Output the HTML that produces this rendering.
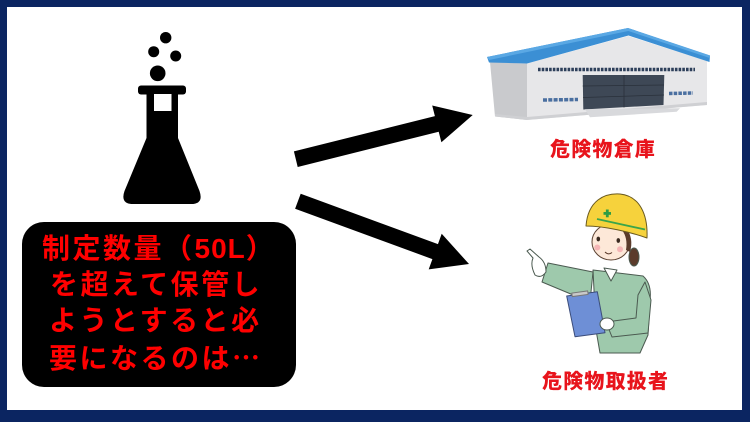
<!DOCTYPE html>
<html><head><meta charset="utf-8">
<style>
html,body{margin:0;padding:0;}
body{width:750px;height:422px;background:#0b2561;position:relative;overflow:hidden;font-family:"Liberation Sans","Noto Sans CJK JP",sans-serif;}
.inner{position:absolute;left:7px;top:7px;width:735px;height:403px;background:#fff;}
svg{position:absolute;left:0;top:0;}
.box{position:absolute;left:22px;top:222px;width:274px;height:165px;background:#000;border-radius:22px;}
.ln{position:absolute;font-family:"Liberation Sans","Noto Sans CJK JP",sans-serif;font-weight:bold;font-size:28px;color:#f00;letter-spacing:2.5px;line-height:36px;height:36px;white-space:nowrap;}
.cjk{font-family:"Noto Sans CJK JP",sans-serif;}
.lbl{position:absolute;font-family:"Liberation Sans","Noto Sans CJK JP",sans-serif;font-weight:900;font-size:20px;color:#e8141c;letter-spacing:1.2px;line-height:24px;height:24px;white-space:nowrap;}
</style></head>
<body>
<div class="inner"></div>
<svg width="750" height="422" viewBox="0 0 750 422">
  <!-- flask -->
  <g fill="#000">
    <circle cx="165.7" cy="37.7" r="5.7"/>
    <circle cx="153.7" cy="51.7" r="5.5"/>
    <circle cx="175.7" cy="56" r="5.5"/>
    <circle cx="157.7" cy="73.3" r="7.8"/>
    <rect x="138" y="85.5" width="48" height="9" rx="3"/>
    <path d="M146.5,93 L178,93 L178,138 L199.5,191 Q204,204 191,204 L133,204 Q120,204 124.5,191 L146.5,138 Z"/>
  </g>
  <rect x="154" y="94" width="17.5" height="17" fill="#fff"/>

  <!-- arrows -->
  <polygon fill="#000" points="293.9,151.4 434.9,116.1 432.2,105.5 472.7,115 441.4,142.3 438.7,131.7 297.7,167"/>
  <polygon fill="#000" points="300.7,193.8 437.95,244.1 441.7,233.8 469,264 428.7,269.4 432.4,259.1 295.1,208.8"/>

  <!-- warehouse -->
  <polygon points="490,62 527,63.5 527,120 495,116.5" fill="#c9cacd"/>
  <polygon points="527,63.5 628.3,36 707,61 707,105 527,120" fill="#e7e7e9"/>
  <polygon points="495,114 527,117 707,102 707,105 527,120 495,116.5" fill="#cfd0d3"/>
  <polygon points="487,57 628,28 710,55.5 709.5,62 628.5,35.5 527,63.5 489,62.5" fill="#3b8fd4"/>
  <polygon points="487,57 628,28 710,55.5 709.8,58 628.3,31 489,60" fill="#5aa8e4"/>
  <line x1="538" y1="69.5" x2="695" y2="69.5" stroke="#2d3f5a" stroke-width="3.5" stroke-dasharray="2.6 1.1"/>
  <polygon points="582.7,75 664.3,75 663.5,105 583.3,109.5" fill="#3e4856"/>
  <g stroke="#2a313b" stroke-width="0.8">
    <line x1="624" y1="75" x2="624" y2="107.5"/>
    <line x1="582.7" y1="86" x2="664" y2="85"/>
    <line x1="583" y1="97.5" x2="664" y2="95"/>
  </g>
  <polygon points="585,109.3 680,108.3 676.7,111.7 590,117.3" fill="#d8d9dc"/>
  <line x1="543" y1="100" x2="578" y2="99.5" stroke="#4a6fa0" stroke-width="3.5" stroke-dasharray="4 1.3"/>
  <line x1="669" y1="93.5" x2="693" y2="93" stroke="#4a6fa0" stroke-width="3.5" stroke-dasharray="3.5 1.2"/>

  <!-- worker -->
  <g stroke="#4b5a50" stroke-width="1" stroke-linejoin="round">
    <ellipse cx="634" cy="257" rx="5" ry="9" fill="#5b3b2b"/>
    <path d="M593,270 L643,276 Q652,284 650,300 L648,335 L640,353 L600,353 L596,330 Z" fill="#9ec9ac"/>
    <path d="M604,268 L617,270 L611,281 Z" fill="#fff"/>
    <path d="M593,272 L548,263 L542,282 L590,302 Z" fill="#9ec9ac"/>
    <path d="M645,282 L651,300 L648,333 L612,337 L606,322 L636,318 L638,295 Z" fill="#9ec9ac"/>
    <path d="M535,275 Q530,265 533,258 L527,251 L530,249 L539,257 Q546,262 546,272 Q541,279 535,275 Z" fill="#fff"/>
    <path d="M566.7,296 L597.3,291.7 L605,332.7 L575,336.7 Z" fill="#6e8fd6" stroke="#3b4c7a"/>
    <rect x="572" y="292" width="16" height="3.5" fill="#c9c9c9" stroke="#777" transform="rotate(-8 580 294)"/>
    <ellipse cx="607" cy="324" rx="7" ry="6" fill="#fff"/>
    <ellipse cx="611" cy="242" rx="19" ry="18" fill="#fde8d8" stroke="#5a4030"/>
    <path d="M626,228 Q634,238 630,252 L626,250 Q628,238 622,230 Z" fill="#5b3b2b" stroke="none"/>
    <path d="M586,226 C588,200 605,193 620,194 C640,196 648,215 647,238 C630,232 605,226 586,226 Z" fill="#f6d23c" stroke="#6a5a20"/>
  </g>
  <line x1="597" y1="219" x2="645" y2="229.5" stroke="#3aa54a" stroke-width="1.8"/>
  <rect x="603.5" y="212" width="7.5" height="2.8" fill="#2f9d44"/>
  <rect x="605.9" y="209.5" width="2.8" height="7.8" fill="#2f9d44"/>
  <ellipse cx="598.3" cy="239" rx="1.8" ry="2.4" fill="#3a2a20"/>
  <ellipse cx="618.3" cy="240.5" rx="1.8" ry="2.4" fill="#3a2a20"/>
  <circle cx="597.3" cy="247.5" r="3" fill="#f5b5b5"/>
  <circle cx="620" cy="249.3" r="3" fill="#f5b5b5"/>
  <path d="M605,252 Q608.5,255.5 612,252.5" stroke="#5a3a2a" stroke-width="1" fill="none"/>
</svg>

<div class="box"></div>
<div class="ln" style="left:42px;top:231px;">制定数量（<span style="letter-spacing:1px">50L</span>）</div>
<div class="ln" style="left:50px;top:267px;">を超えて保管し</div>
<div class="ln" style="left:49px;top:303px;">ようとすると必</div>
<div class="ln" style="left:49px;top:339px;">要になるのは<span class="cjk">…</span></div>

<div class="lbl" style="left:550px;top:138px;">危険物倉庫</div>
<div class="lbl" style="left:542px;top:370px;">危険物取扱者</div>
</body></html>
